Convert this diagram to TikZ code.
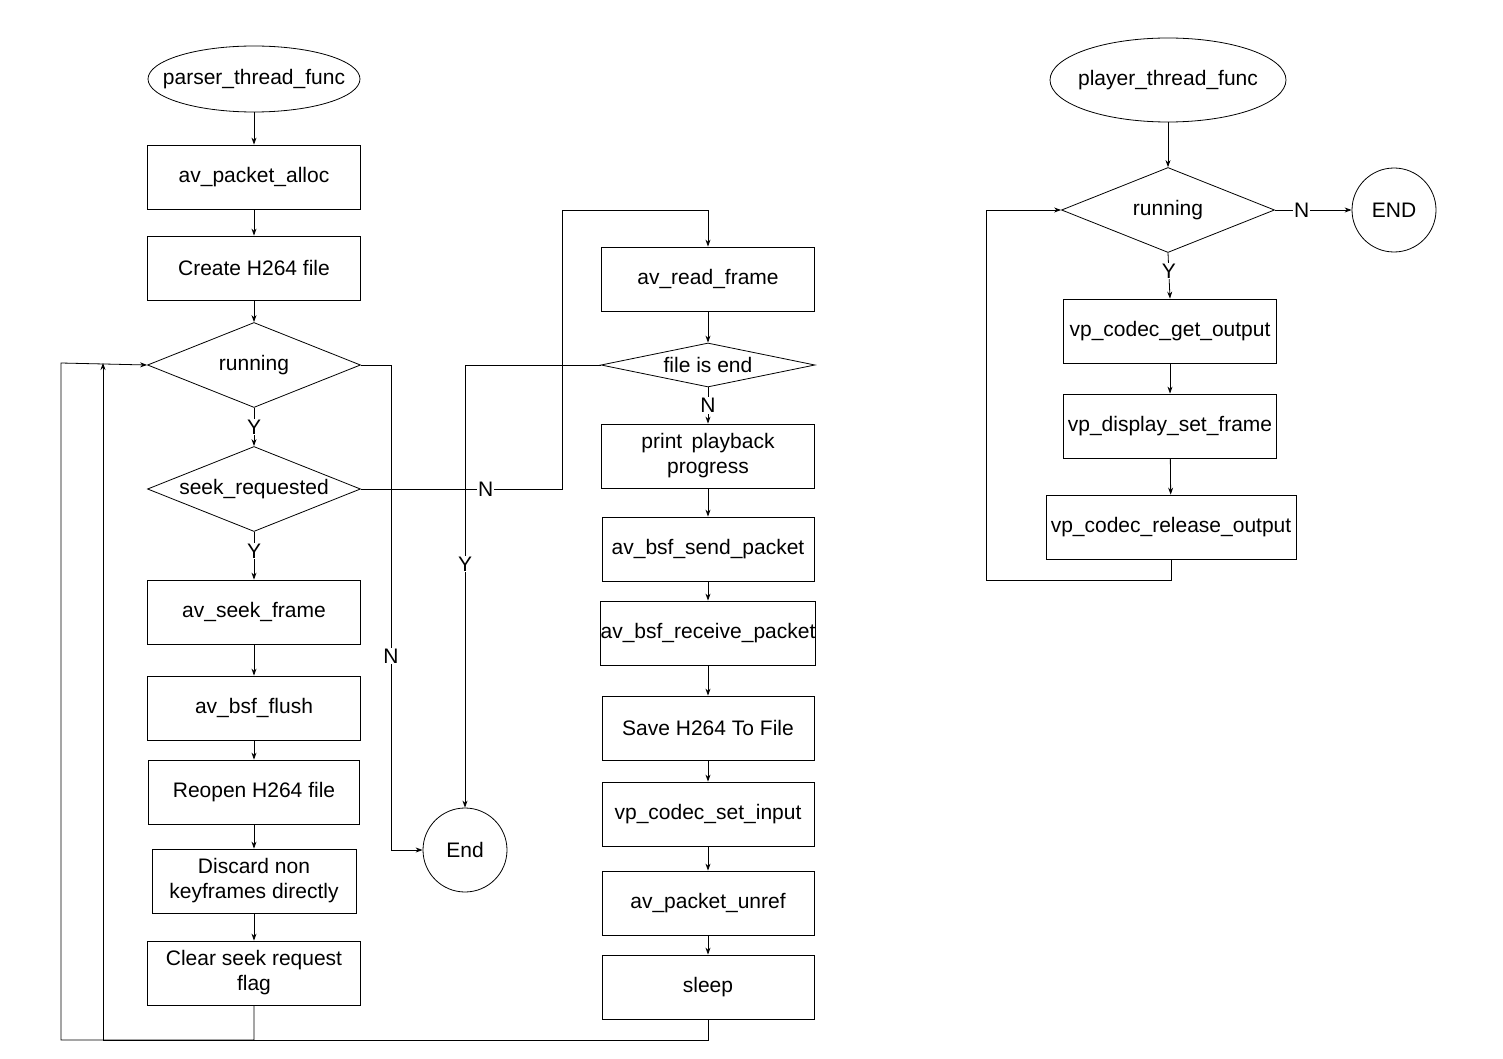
\documentclass[tikz,border=0pt]{standalone}
\usepackage{fontspec}
\setmainfont{Liberation Sans}
\usetikzlibrary{shapes.geometric,arrows.meta}
\begin{document}
\begin{tikzpicture}[x=1pt,y=-1pt,
  every node/.style={font=\fontsize{21}{25}\selectfont, align=center, inner sep=0pt},
  box/.style={draw, line width=0.8pt, minimum width=213pt, minimum height=64pt},
  dia/.style={draw, line width=0.8pt, diamond, aspect=2.5, minimum width=213pt, minimum height=85pt},
  circ/.style={draw, line width=0.8pt, circle, minimum size=84pt},
  lbl/.style={fill=white, inner sep=1pt},
  arr/.style={draw, line width=0.8pt, -{Stealth[length=7pt,width=5pt]}},
  ln/.style={draw, line width=0.8pt}]
\useasboundingbox (0,0) rectangle (1503,1059);
% left column
\node[minimum width=212pt, minimum height=66pt] (ptf) at (254,79) {parser\_thread\_func};
\draw[line width=0.8pt] (ptf.center) ellipse [x radius=106pt, y radius=33pt];
\node[box] (alloc) at (254,177) {av\_packet\_alloc};
\node[box] (create) at (254,268) {Create H264 file};
\node[dia] (run) at (254,365) {running};
\node[dia] (seek) at (254,489) {seek\_requested};
\node[box] (sf) at (254,612) {av\_seek\_frame};
\node[box] (flush) at (254,708) {av\_bsf\_flush};
\node[box, minimum width=211pt] (reopen) at (254,792) {Reopen H264 file};
\node[box, minimum width=204pt] (disc) at (254,881) {Discard non\\keyframes directly};
\node[box] (clear) at (254,973) {Clear seek request\\flag};
\node[circ] (end) at (465,850) {End};
% middle column
\node[box] (rf) at (708,279) {av\_read\_frame};
\node[draw, line width=0.8pt, diamond, aspect=4.86, minimum width=214pt, minimum height=44pt] (fe) at (708,365) {file is end};
\node[box] (pp) at (708,456) {print\, playback\\progress};
\node[box, minimum width=212pt] (bs) at (708,549) {av\_bsf\_send\_packet};
\node[box, minimum width=212pt] (br) at (708,633) {av\_bsf\_receive\_packet};
\node[box, minimum width=212pt] (save) at (708,728) {Save H264 To File};
\node[box, minimum width=212pt] (vsi) at (708,814) {vp\_codec\_set\_input};
\node[box, minimum width=212pt] (unref) at (708,903) {av\_packet\_unref};
\node[box, minimum width=212pt] (sleep) at (708,987) {sleep};
% right column
\node[minimum width=236pt, minimum height=84pt] (plf) at (1168,80) {player\_thread\_func};
\draw[line width=0.8pt] (plf.center) ellipse [x radius=118pt, y radius=42pt];
\node[dia] (run2) at (1168,210) {running};
\node[circ] (END) at (1394,210) {END};
\node[box] (go) at (1170,331) {vp\_codec\_get\_output};
\node[box] (ds) at (1170,426) {vp\_display\_set\_frame};
\node[box, minimum width=250pt] (ro) at (1171,527) {vp\_codec\_release\_output};
% edges left
\path[arr] (ptf) -- (alloc);
\path[arr] (alloc) -- (create);
\path[arr] (create) -- (run);
\path[arr] (run) -- node[lbl]{Y} (seek);
\path[arr] (seek) -- node[lbl, pos=0.4]{Y} (sf);
\path[arr] (sf) -- (flush);
\path[arr] (flush) -- (reopen);
\path[arr] (reopen) -- (disc);
\path[arr] (disc) -- (clear);
\path[arr] (run.east) -- (391,365) -- node[lbl, pos=0.6]{N} (391,850) -- (end.west);
\path[arr] (seek.east) -- node[lbl, pos=0.62]{N} (562,489) -- (562,210) -- (708,210) -- (rf.north);
\path[arr] (fe.west) -- (465,365) -- node[lbl, pos=0.45]{Y} (end.north);
\path[arr] (clear.south) -- (254,1040) -- (61,1040) -- (61,363) -- (run.west);
\path[arr] (sleep.south) -- (708,1040) -- (103,1040) -- (103,363);
% edges middle
\path[arr] (rf) -- (fe);
\path[arr] (fe) -- node[lbl]{N} (pp);
\path[arr] (pp) -- (bs);
\path[arr] (bs) -- (br);
\path[arr] (br) -- (save);
\path[arr] (save) -- (vsi);
\path[arr] (vsi) -- (unref);
\path[arr] (unref) -- (sleep);
% edges right
\path[arr] (plf) -- (run2);
\path[arr] (run2) -- node[lbl, pos=0.35]{N} (END);
\path[arr] (run2.south) -- node[lbl, pos=0.4]{Y} (go.north);
\path[arr] (go) -- (ds);
\path[arr] (ds) -- (ro);
\path[arr] (ro.south) -- (1171,580) -- (986,580) -- (986,210) -- (run2.west);
\end{tikzpicture}
\end{document}
